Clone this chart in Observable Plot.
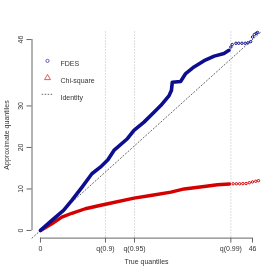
<!DOCTYPE html>
<html><head><meta charset="utf-8">
<script src="https://cdn.jsdelivr.net/npm/d3@7"></script>
<script src="https://cdn.jsdelivr.net/npm/@observablehq/plot@0.6"></script>
<style>body{margin:0;background:#fff} svg{will-change:transform}</style>
</head><body><div id="chart"></div>
<script>
// FDES approximation: dense part (read as a thick run of points) and sparse tail
const fdesX = [0, 2.46, 5.0, 6.8, 8.98, 11.15, 12.98, 14.63, 15.93, 18.85, 20.28, 22.46, 24.63, 26.09, 27.9, 28.4, 28.6, 30.4, 31.5, 33.3, 35.5, 37.7, 39.8, 40.9];
const fdesY = [0, 2.41, 4.82, 7.23, 10.4, 13.66, 15.25, 17.04, 19.28, 22.1, 24.1, 26.1, 28.5, 30.1, 32.5, 33.7, 35.7, 35.9, 37.8, 39.4, 40.9, 42.0, 42.65, 43.4];
const fdesTailX = [41.3, 41.6, 42.4, 43.0, 43.7, 44.4, 45.0, 45.6, 46.0, 46.4, 46.8, 47.1];
const fdesTailY = [44.2, 44.8, 45.1, 45.1, 45.1, 45.1, 45.2, 45.5, 46.6, 47.2, 47.5, 47.7];
// Chi-square approximation
const chiX = [0, 2.46, 4.63, 6.8, 9.72, 12.6, 14.6, 20.3, 23.9, 28.3, 31.2, 35.5, 38.4, 41.0];
const chiY = [0, 1.61, 3.2, 4.14, 5.23, 5.95, 6.43, 7.78, 8.43, 9.23, 10.0, 10.6, 11.0, 11.2];
const chiTailX = [41.8, 42.5, 43.2, 43.9, 44.6, 45.3, 46.0, 46.7, 47.3];
const chiTailY = [11.25, 11.25, 11.25, 11.3, 11.3, 11.5, 11.7, 11.85, 12.0];
// axes
const xTicks = [0, 14.1, 20.4, 41.3, 46];
const xTickLabels = ["0", "q(0.9)", "q(0.95)", "q(0.99)", "46"];
const qLines = [14.1, 20.4, 41.3];
const yTicks = [0, 10, 20, 30, 46];
const yTickLabels = ["0", "10", "20", "30", "46"];
const domain = [-1.84, 47.84];
const legendLabels = ["FDES", "Chi-square", "Identity"];

const zip = (xs, ys) => xs.map((x, i) => ({x, y: ys[i]}));
const fdes = zip(fdesX, fdesY), fdesTail = zip(fdesTailX, fdesTailY);
const chi = zip(chiX, chiY), chiTail = zip(chiTailX, chiTailY);
const identity = domain.map(v => ({x: v, y: v}));
const BLUE = "#0d0d8f", RED = "#d40000";
const font = "Liberation Sans, Arial, sans-serif";

const plot = Plot.plot({
  width: 277, height: 277,
  marginLeft: 31.5, marginRight: 16.5, marginTop: 31.4, marginBottom: 39.4,
  style: {fontFamily: font, fontSize: "7px", color: "#333", background: "#fff"},
  x: {domain, label: null},
  y: {domain, label: null},
  marks: [
    Plot.ruleX(qLines, {stroke: "#bbb", strokeDasharray: "1.2,1.8", strokeWidth: 0.8}),
    Plot.line(identity, {x: "x", y: "y", stroke: "#555", strokeDasharray: "1.2,2.2", strokeWidth: 0.9}),
    Plot.line(chi, {x: "x", y: "y", stroke: RED, strokeWidth: 3.4, strokeLinecap: "round"}),
    Plot.dot(chiTail, {x: "x", y: "y", stroke: RED, r: 1.2, strokeWidth: 1}),
    Plot.line(fdes, {x: "x", y: "y", stroke: BLUE, strokeWidth: 3.6, strokeLinecap: "round"}),
    Plot.dot(fdesTail, {x: "x", y: "y", stroke: BLUE, r: 1.2, strokeWidth: 1}),
    // axis lines (from first to last tick, R style)
    Plot.ruleY([domain[0]], {x1: xTicks[0], x2: xTicks[xTicks.length - 1], stroke: "#666"}),
    Plot.ruleX([domain[0]], {y1: yTicks[0], y2: yTicks[yTicks.length - 1], stroke: "#666"}),
    Plot.axisX({ticks: xTicks, tickSize: 5, tickPadding: 3, stroke: "#666", tickFormat: (d) => xTickLabels[xTicks.indexOf(d)]}),
    Plot.axisY({ticks: yTicks, tickSize: 5, tickFormat: () => "", stroke: "#666"}),
    Plot.text(yTicks, {y: d => d, text: (d, i) => yTickLabels[i], frameAnchor: "left", dx: -11.5, rotate: -90, textAnchor: "middle", fill: "#333"}),
    Plot.text(["Approximate quantiles"], {frameAnchor: "left", dx: -25.5, rotate: -90, textAnchor: "middle", fill: "#333"}),
    Plot.text(["True quantiles"], {frameAnchor: "bottom", dy: 25.5, textAnchor: "middle", fill: "#333"}),
    // legend
    Plot.dot([legendLabels[0]], {frameAnchor: "top-left", dx: 15.5, dy: 29, r: 1.6, stroke: "#3a3ab0", strokeWidth: 0.8}),
    Plot.dot([legendLabels[1]], {frameAnchor: "top-left", dx: 15.5, dy: 46, r: 2.2, symbol: "triangle", stroke: "#e03030", strokeWidth: 0.8}),
    Plot.text([legendLabels[0]], {frameAnchor: "top-left", dx: 28.5, dy: 29, text: d => d, textAnchor: "start", fill: "#333"}),
    Plot.text([legendLabels[1]], {frameAnchor: "top-left", dx: 28.5, dy: 46, text: d => d, textAnchor: "start", fill: "#333"}),
    Plot.text([legendLabels[2]], {frameAnchor: "top-left", dx: 28.5, dy: 63, text: d => d, textAnchor: "start", fill: "#333"})
  ]
});
// legend key for the identity line
d3.select(plot).append("line")
  .attr("x1", 41.7).attr("x2", 53.3).attr("y1", 94.3).attr("y2", 94.3)
  .attr("stroke", "#555").attr("stroke-width", 0.9).attr("stroke-dasharray", "1.5,1.5");
document.getElementById("chart").append(plot);
</script>
</body></html>
